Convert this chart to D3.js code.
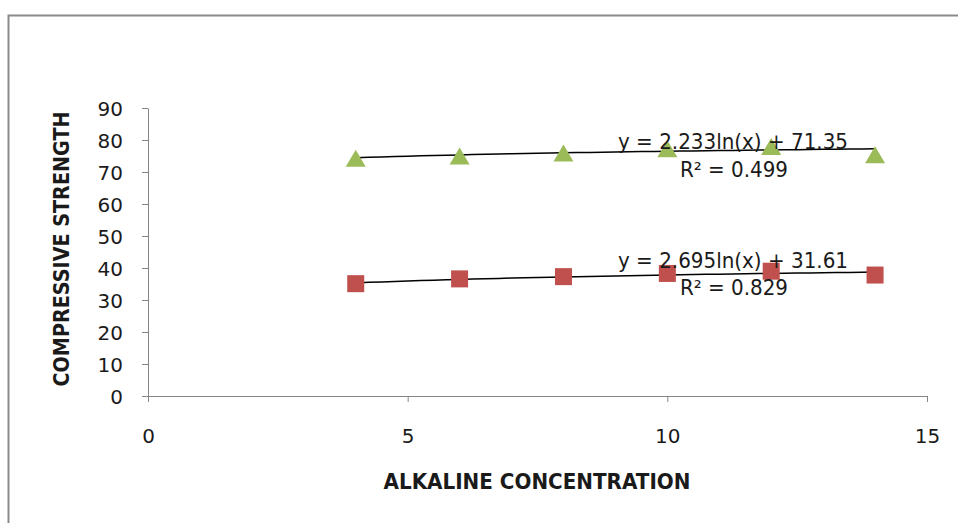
<!DOCTYPE html>
<html>
<head>
<meta charset="utf-8">
<script src="https://cdn.jsdelivr.net/npm/d3@7"></script>
<style>
  body { margin: 0; background: #fff; }
  text { font-family: "DejaVu Sans", sans-serif; fill: #1a1a1a; }
</style>
</head>
<body>
<div id="grafica"></div>
<script>
// datos
const concentration = [4, 6, 8, 10, 12, 14]
const strengthHigh = [74.3, 75.0, 75.9, 77.3, 78.0, 75.4]
const strengthLow = [35.1, 36.6, 37.3, 38.3, 39.0, 37.8]

const xTicks = [0, 5, 10, 15]
const yTicks = [0, 10, 20, 30, 40, 50, 60, 70, 80, 90]

// trendlines y = a ln(x) + b
const fitHigh = { a: 2.233, b: 71.35, label: 'y = 2.233ln(x) + 71.35', r2: 'R² = 0.499' }
const fitLow = { a: 2.695, b: 31.61, label: 'y = 2.695ln(x) + 31.61', r2: 'R² = 0.829' }

const svgWidth = 958
const svgHeight = 523
const margin = { top: 108, left: 148 }
const chartWidth = 927 - 148
const chartHeight = 396 - 108

const scaleX = d3.scaleLinear().domain([0, 15]).range([0, chartWidth])
const scaleY = d3.scaleLinear().domain([0, 90]).range([chartHeight, 0])

const svg = d3.select('#grafica')
    .append('svg')
    .attr('width', svgWidth)
    .attr('height', svgHeight)

// borde del area
svg.append('rect')
    .attr('x', 8.5)
    .attr('y', 15.5)
    .attr('width', 980)
    .attr('height', 540)
    .style('fill', 'none')
    .style('stroke', '#8a8a8a')
    .style('stroke-width', 2)

const g = svg.append('g')
    .attr('transform', `translate(${margin.left},${margin.top})`)

// ejes
const axisX = d3.axisBottom(scaleX).tickValues(xTicks).tickSize(6).tickSizeOuter(0)
const axisY = d3.axisLeft(scaleY).tickValues(yTicks).tickSize(6).tickSizeOuter(0)

const gx = g.append('g')
    .attr('transform', `translate(0,${chartHeight})`)
    .call(axisX)
gx.selectAll('text').attr('dy', 0).attr('y', 47).style('font-size', '20px')
    .style('font-family', '"DejaVu Sans", sans-serif').style('fill', '#1a1a1a')

const gy = g.append('g').call(axisY)
gy.selectAll('text').attr('x', -25).attr('dy', '0.36em').style('font-size', '20px')
    .style('font-family', '"DejaVu Sans", sans-serif').style('fill', '#1a1a1a')

svg.selectAll('.domain, .tick line').style('stroke', '#868686')

// titulos
svg.append('text')
    .attr('x', 537)
    .attr('y', 489)
    .attr('text-anchor', 'middle')
    .attr('textLength', 307)
    .attr('lengthAdjust', 'spacingAndGlyphs')
    .style('font-size', '21px')
    .style('font-weight', 'bold')
    .text('ALKALINE CONCENTRATION')

svg.append('text')
    .attr('transform', 'translate(69,249) rotate(-90)')
    .attr('text-anchor', 'middle')
    .attr('textLength', 275)
    .attr('lengthAdjust', 'spacingAndGlyphs')
    .style('font-size', '21px')
    .style('font-weight', 'bold')
    .text('COMPRESSIVE STRENGTH')

// lineas de tendencia
const xs = d3.range(4, 14.01, 0.25)
const line = d3.line().x(d => scaleX(d[0])).y(d => scaleY(d[1]))
;[fitHigh, fitLow].forEach(f => {
    g.append('path')
        .attr('d', line(xs.map(x => [x, f.a * Math.log(x) + f.b])))
        .style('fill', 'none')
        .style('stroke', '#000')
        .style('stroke-width', 1.5)
})

// marcadores
g.selectAll('.tri')
    .data(concentration.map((c, i) => [c, strengthHigh[i]]))
    .enter()
    .append('path')
    .attr('class', 'tri')
    .attr('d', 'M0,-8.5L10,8.5L-10,8.5Z')
    .attr('transform', d => `translate(${scaleX(d[0])},${scaleY(d[1])})`)
    .style('fill', '#9BBB59')

g.selectAll('.sq')
    .data(concentration.map((c, i) => [c, strengthLow[i]]))
    .enter()
    .append('rect')
    .attr('class', 'sq')
    .attr('width', 17)
    .attr('height', 17)
    .attr('x', d => scaleX(d[0]) - 8.5)
    .attr('y', d => scaleY(d[1]) - 8.5)
    .style('fill', '#C0504D')

// etiquetas de ecuaciones
const labels = [
    { f: fitHigh, y1: 149, y2: 177 },
    { f: fitLow, y1: 268, y2: 295 }
]
labels.forEach(l => {
    svg.append('text')
        .attr('x', 733).attr('y', l.y1)
        .attr('text-anchor', 'middle')
        .attr('textLength', 230)
        .attr('lengthAdjust', 'spacingAndGlyphs')
        .style('font-size', '20.5px')
        .text(l.f.label)
    svg.append('text')
        .attr('x', 734).attr('y', l.y2)
        .attr('text-anchor', 'middle')
        .attr('textLength', 108)
        .attr('lengthAdjust', 'spacingAndGlyphs')
        .style('font-size', '20.5px')
        .text(l.f.r2)
})
</script>
</body>
</html>
